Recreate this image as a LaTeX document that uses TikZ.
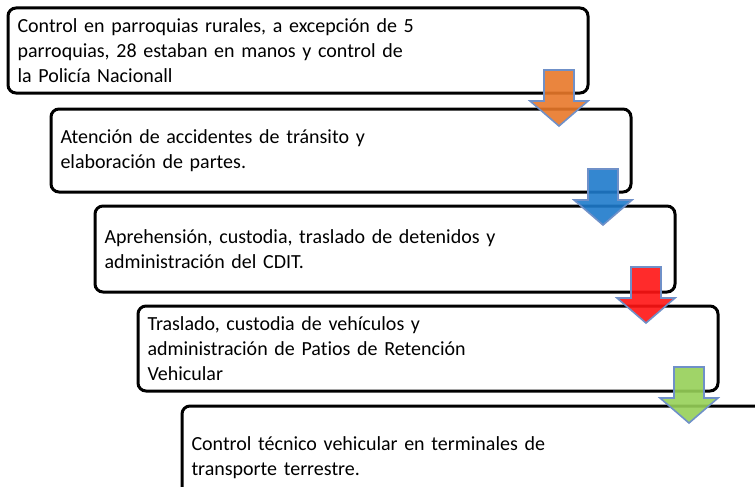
\documentclass[tikz,border=0pt]{standalone}
\usepackage{fontspec}
\setmainfont{Carlito}[Ligatures=NoCommon]
\definecolor{arrorange}{HTML}{E8782A}
\definecolor{arrblue}{HTML}{1F7BCB}
\definecolor{arrred}{HTML}{FF1414}
\definecolor{arrgreen}{HTML}{96D058}
\definecolor{arrborder}{HTML}{6F90C8}
\begin{document}
\begin{tikzpicture}[x=1pt,y=-1pt,
  stepbox/.style={draw=black, line width=3pt, rounded corners=8pt, fill=white,
    anchor=north west, minimum width=580pt, minimum height=85pt,
    inner xsep=9.5pt, inner ysep=0pt, text width=561pt, align=left,
    font=\fontsize{20}{25}\selectfont},
  arrowstyle/.style={draw=arrborder, line width=1.6pt, fill opacity=0.9, line join=miter},
  darr/.pic={\path[pic actions] (-15,0) -- (15,0) -- (15,31) -- (29,31) -- (0,56) -- (-29,31) -- (-15,31) -- cycle;}
  ]
\useasboundingbox (0,0) rectangle (755,487);
\clip (0,0) rectangle (755,487);
\node[stepbox] (b1) at (6.5,6.5) {Control en parroquias rurales, a excepción de 5\\parroquias, 28 estaban en manos y control de\\la Policía Nacionall};
\node[stepbox, minimum height=83pt] (b2) at (49.5,107.5) {Atención de accidentes de tránsito y\\elaboración de partes.};
\node[stepbox, minimum height=86pt] (b3) at (93.5,204.5) {Aprehensión, custodia, traslado de detenidos y\\administración del CDIT.};
\node[stepbox] (b4) at (136.5,304.5) {Traslado, custodia de vehículos y\\administración de Patios de Retención\\Vehicular};
\node[stepbox, minimum height=104pt] (b5) at (180.5,404.5) {Control técnico vehicular en terminales de\\transporte terrestre.};
\pic[arrowstyle, fill=arrorange] at (559,70) {darr};
\pic[arrowstyle, fill=arrblue] at (603,169) {darr};
\pic[arrowstyle, fill=arrred] at (646,267) {darr};
\pic[arrowstyle, fill=arrgreen] at (689,367) {darr};
\end{tikzpicture}
\end{document}
